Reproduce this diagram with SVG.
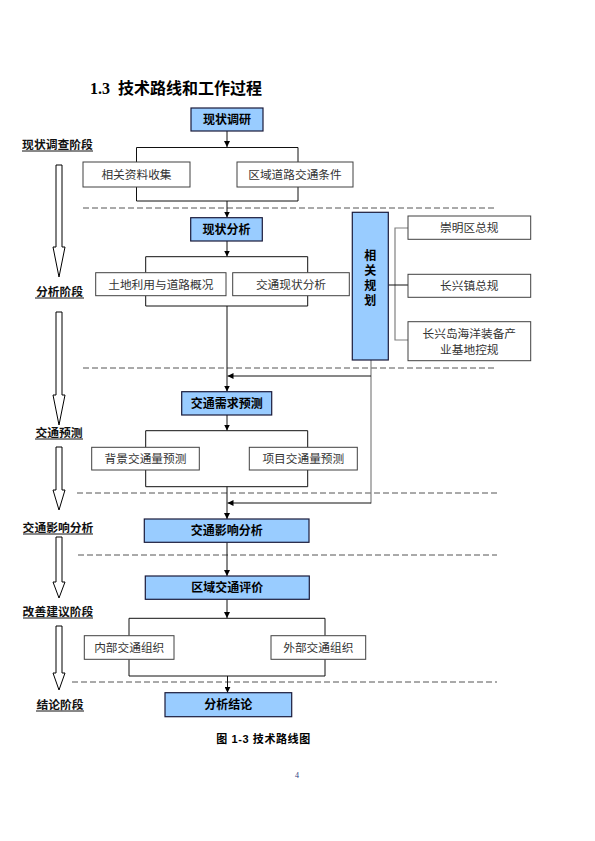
<svg xmlns="http://www.w3.org/2000/svg" width="595" height="841" viewBox="0 0 595 841">
<defs>
<style>
.bx{fill:#fff;stroke:#404040;stroke-width:1}
.bb{fill:#99ccff;stroke:#1a1a3a;stroke-width:1.2}
.t{font-family:"Liberation Sans","Noto Sans CJK SC",sans-serif;font-size:11.7px;fill:#333;text-anchor:middle}
.tb{font-family:"Liberation Sans","Noto Sans CJK SC",sans-serif;font-size:12px;font-weight:bold;fill:#000;text-anchor:middle}
.st{font-family:"Liberation Sans","Noto Sans CJK SC",sans-serif;font-size:11.8px;font-weight:bold;fill:#111;text-anchor:middle}
.ln{fill:none;stroke:#111;stroke-width:1}
.gl{fill:none;stroke:#808080;stroke-width:1.2}
.ds{fill:none;stroke:#555;stroke-width:1;stroke-dasharray:6,3}
.ha{fill:#fff;stroke:#000;stroke-width:1}
.ul{stroke:#111;stroke-width:1}
</style>
<marker id="ah" viewBox="0 0 8 8" refX="8" refY="4" markerWidth="6" markerHeight="6" orient="auto" markerUnits="userSpaceOnUse"><path d="M0,0 L8,4 L0,8 z" fill="#000"/></marker>
</defs>
<rect width="595" height="841" fill="#fff"/>
<text x="90" y="94" font-family="Liberation Serif,serif" font-size="16" font-weight="bold" fill="#000">1.3</text>
<text x="118" y="94" font-family="Liberation Sans,'Noto Sans CJK SC',sans-serif" font-size="16" font-weight="bold" fill="#000">技术路线和工作过程</text>

<g id="dashes">
<line class="ds" x1="83" y1="208" x2="497" y2="208"/>
<line class="ds" x1="83" y1="368" x2="497" y2="368"/>
<line class="ds" x1="77" y1="493" x2="497" y2="493"/>
<line class="ds" x1="78" y1="555" x2="497" y2="555"/>
<line class="ds" x1="72" y1="682" x2="497" y2="682"/>
</g>

<g id="stages">
<text class="st" x="57.5" y="149">现状调查阶段</text><line class="ul" x1="22" y1="151" x2="93" y2="151"/>
<text class="st" x="59.5" y="296">分析阶段</text><line class="ul" x1="35" y1="298" x2="84" y2="298"/>
<text class="st" x="59" y="437">交通预测</text><line class="ul" x1="35" y1="439" x2="83" y2="439"/>
<text class="st" x="58" y="532">交通影响分析</text><line class="ul" x1="23" y1="534" x2="93" y2="534"/>
<text class="st" x="58" y="616">改善建议阶段</text><line class="ul" x1="23" y1="618" x2="93" y2="618"/>
<text class="st" x="60" y="709">结论阶段</text><line class="ul" x1="36" y1="711" x2="84" y2="711"/>
<polygon class="ha" points="56,165 62,165 62,247 65,247 59,277 53,247 56,247"/>
<polygon class="ha" points="56,312 62,312 62,395 65,395 59,425 53,395 56,395"/>
<polygon class="ha" points="56,447 62,447 62,490 65,490 59,510 53,490 56,490"/>
<polygon class="ha" points="56,537 62,537 62,582 65,582 59,598 53,582 56,582"/>
<polygon class="ha" points="56,626 62,626 62,673 65,673 59,690 53,673 56,673"/>
</g>

<g id="connectors">
<line class="ln" x1="227" y1="131" x2="227" y2="147" marker-end="url(#ah)"/>
<polyline class="ln" points="136.5,162 136.5,147.5 298,147.5 298,162"/>
<polyline class="ln" points="136.5,187 136.5,201 298,201 298,187"/>
<line class="ln" x1="227" y1="201" x2="227" y2="217.5" marker-end="url(#ah)"/>
<line class="ln" x1="227" y1="241" x2="227" y2="256.5" marker-end="url(#ah)"/>
<polyline class="ln" points="145.7,272.7 145.7,256.7 307.7,256.7 307.7,272.7"/>
<polyline class="ln" points="145.7,295.7 145.7,306 307.7,306 307.7,295.7"/>
<line class="ln" x1="227" y1="306" x2="227" y2="391.5" marker-end="url(#ah)"/>
<line class="gl" x1="371" y1="360" x2="371" y2="503.5"/>
<line class="ln" x1="371" y1="376" x2="227.5" y2="376" marker-end="url(#ah)"/>
<line class="ln" x1="227" y1="415" x2="227" y2="430.5" marker-end="url(#ah)"/>
<polyline class="ln" points="145.7,447.3 145.7,430.7 307.7,430.7 307.7,447.3"/>
<polyline class="ln" points="145.7,470 145.7,486.7 307.7,486.7 307.7,470"/>
<line class="ln" x1="227" y1="486.7" x2="227" y2="519" marker-end="url(#ah)"/>
<line class="ln" x1="371" y1="503" x2="227.5" y2="503" marker-end="url(#ah)"/>
<line class="ln" x1="227" y1="542.3" x2="227" y2="576" marker-end="url(#ah)"/>
<line class="ln" x1="227" y1="599.3" x2="227" y2="618" marker-end="url(#ah)"/>
<polyline class="ln" points="129,635.7 129,618.3 325,618.3 325,635.7"/>
<polyline class="ln" points="129,659.3 129,676 325,676 325,659.3"/>
<line class="ln" x1="227.5" y1="676" x2="227.5" y2="692.7" marker-end="url(#ah)"/>
<polyline class="gl" points="408,228 395,228 395,340 408,340"/>
<line class="ln" x1="388.3" y1="285" x2="408" y2="285"/>
</g>

<g id="n_xzdy"><rect class="bb" x="191" y="108" width="72" height="23"/><text class="tb" x="227" y="124">现状调研</text></g>
<g id="n_xgzl"><rect class="bx" x="83" y="162" width="107" height="25"/><text class="t" x="136.5" y="179">相关资料收集</text></g>
<g id="n_qydl"><rect class="bx" x="237" y="162" width="116" height="25"/><text class="t" x="295" y="179">区域道路交通条件</text></g>
<g id="n_xzfx"><rect class="bb" x="190.7" y="217.7" width="71.6" height="23.3"/><text class="tb" x="226.5" y="233.5">现状分析</text></g>
<g id="n_tdly"><rect class="bx" x="95.7" y="272.7" width="130.3" height="23"/><text class="t" x="160.8" y="288.5">土地利用与道路概况</text></g>
<g id="n_jtxz"><rect class="bx" x="232.7" y="272.7" width="116.6" height="23"/><text class="t" x="291" y="288.5">交通现状分析</text></g>
<g id="n_xggh"><rect class="bb" x="352.3" y="212.3" width="36" height="147.7"/>
<text class="tb" x="370.3" y="259.5">相</text><text class="tb" x="370.3" y="274.5">关</text><text class="tb" x="370.3" y="290">规</text><text class="tb" x="370.3" y="304.5">划</text></g>
<g id="n_cmq"><rect class="bx" x="408" y="216" width="122.7" height="23.3"/><text class="t" x="469.3" y="231.8">崇明区总规</text></g>
<g id="n_cxz"><rect class="bx" x="408" y="274.3" width="122.7" height="23"/><text class="t" x="469.3" y="290">长兴镇总规</text></g>
<g id="n_cxd"><rect class="bx" x="408" y="321.7" width="122.7" height="39"/><text class="t" x="469.3" y="337.5">长兴岛海洋装备产</text><text class="t" x="469.3" y="353.5">业基地控规</text></g>
<g id="n_jtxq"><rect class="bb" x="181.7" y="391.7" width="90" height="23.3"/><text class="tb" x="226.7" y="407.5">交通需求预测</text></g>
<g id="n_bjjt"><rect class="bx" x="91.7" y="447.3" width="107.6" height="22.7"/><text class="t" x="145.5" y="462.8">背景交通量预测</text></g>
<g id="n_xmjt"><rect class="bx" x="249.3" y="447.3" width="108" height="22.7"/><text class="t" x="303.3" y="462.8">项目交通量预测</text></g>
<g id="n_jtyx"><rect class="bb" x="144.3" y="519" width="164.7" height="23.3"/><text class="tb" x="226.7" y="535">交通影响分析</text></g>
<g id="n_qyjt"><rect class="bb" x="145.3" y="576" width="164" height="23.3"/><text class="tb" x="227.3" y="592">区域交通评价</text></g>
<g id="n_nbjt"><rect class="bx" x="84.3" y="635.7" width="89.7" height="23.6"/><text class="t" x="129.2" y="651.5">内部交通组织</text></g>
<g id="n_wbjt"><rect class="bx" x="271" y="635.7" width="94.7" height="23.6"/><text class="t" x="318.3" y="651.5">外部交通组织</text></g>
<g id="n_fxjl"><rect class="bb" x="165" y="692.7" width="126.7" height="24"/><text class="tb" x="228.3" y="709">分析结论</text></g>

<text x="263.5" y="743" font-family="Liberation Sans,'Noto Sans CJK SC',sans-serif" font-size="11" font-weight="bold" fill="#000" text-anchor="middle" letter-spacing="0.6">图 1-3 技术路线图</text>
<text x="297" y="778" font-family="Liberation Serif,serif" font-size="8" fill="#2a3a80" text-anchor="middle">4</text>
</svg>
